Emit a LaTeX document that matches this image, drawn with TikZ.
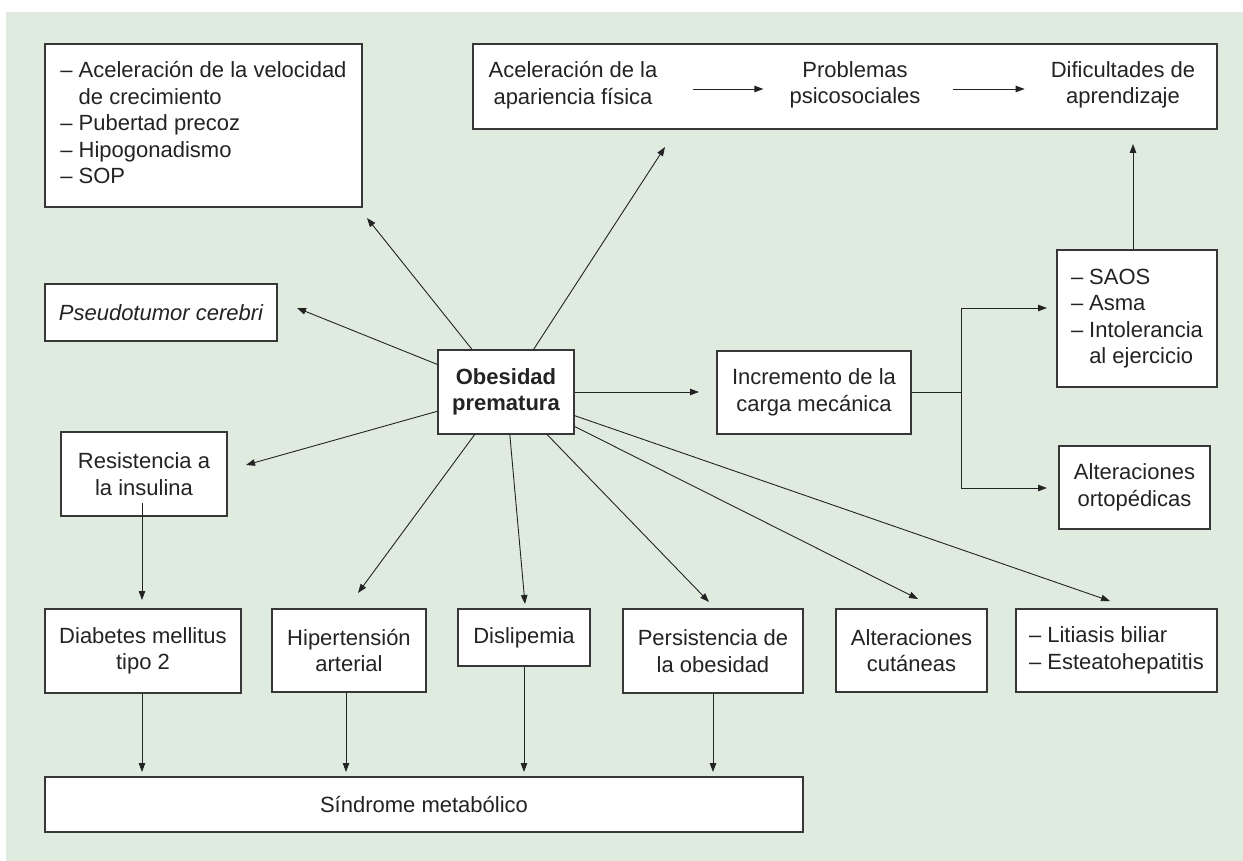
\documentclass[tikz,border=0pt]{standalone}
\usepackage{fontspec}
\setmainfont{Liberation Sans}
\usetikzlibrary{arrows.meta}
\definecolor{bggreen}{RGB}{224,235,223}
\definecolor{ink}{RGB}{35,35,35}
\definecolor{frame}{RGB}{55,55,55}
\begin{document}
\begin{tikzpicture}[x=1pt,y=-1pt,
  txt/.style={font=\fontsize{22}{26.5}\selectfont},
  box/.style={txt, draw=frame, line width=1.2pt, fill=white, inner sep=0pt, align=center, text=ink},
  lbl/.style={txt, inner sep=0pt, align=center, text=ink},
  arr/.style={draw=ink, line width=0.9pt, -{Triangle[length=9pt,width=6.5pt]}},
  conn/.style={draw=ink, line width=0.9pt}]
\useasboundingbox (0,0) rectangle (1243,861);
\fill[bggreen] (6,12) rectangle (1243,861);

% boxes
\node[box, minimum width=317pt, minimum height=163pt] (accel) at (203.5,125.5)
  {\begin{tabular}{@{}l@{\hspace{6pt}}l@{}}–&Aceleración de la velocidad\\&de crecimiento\\–&Pubertad precoz\\–&Hipogonadismo\\–&SOP\end{tabular}};
\node[box, minimum width=744pt, minimum height=85pt] (top) at (845,86.5) {};
\node[lbl] (apar) at (573,85) {Aceleración de la\\apariencia física};
\node[lbl] (psico) at (855,85) {Problemas\\psicosociales};
\node[lbl] (dif) at (1123,85) {Dificultades de\\aprendizaje};
\node[box, minimum width=232pt, minimum height=57pt] (pseudo) at (161,312.5) {\itshape Pseudotumor cerebri};
\node[box, minimum width=136pt, minimum height=84pt, font=\fontsize{22}{26.5}\selectfont\bfseries] (obes) at (506,392) {Obesidad\\prematura};
\node[box, minimum width=194pt, minimum height=83pt] (incr) at (814,392.5) {Incremento de la\\carga mecánica};
\node[box, minimum width=160pt, minimum height=137pt] (saos) at (1137,318.5)
  {\begin{tabular}{@{}l@{\hspace{6pt}}l@{}}–&SAOS\\–&Asma\\–&Intolerancia\\&al ejercicio\end{tabular}};
\node[box, minimum width=151pt, minimum height=83pt] (orto) at (1134.5,487.5) {Alteraciones\\ortopédicas};
\node[box, minimum width=166pt, minimum height=84pt] (resis) at (144,474) {Resistencia a\\la insulina};
\node[box, minimum width=196pt, minimum height=84pt] (diab) at (143,651) {Diabetes mellitus\\tipo 2};
\node[box, minimum width=154pt, minimum height=83pt] (hiper) at (349,650.5) {Hipertensión\\arterial};
\node[box, minimum width=132pt, minimum height=57pt] (disl) at (524,637.5) {Dislipemia};
\node[box, minimum width=180pt, minimum height=84pt] (pers) at (713,651) {Persistencia de\\la obesidad};
\node[box, minimum width=151pt, minimum height=83pt] (cutan) at (911.5,650.5) {Alteraciones\\cutáneas};
\node[box, minimum width=201pt, minimum height=83pt] (litia) at (1116.5,650.5)
  {\begin{tabular}{@{}l@{\hspace{6pt}}l@{}}–&Litiasis biliar\\–&Esteatohepatitis\end{tabular}};
\node[box, minimum width=758pt, minimum height=55pt] (sindr) at (424,804.5) {Síndrome metabólico};

% arrow end points
\coordinate (tAccel) at (367,218);
\coordinate (tTop) at (665,147);
\coordinate (tPseudo) at (297,308);
\coordinate (tResis) at (246,465);
\coordinate (tHiper) at (358,593);
\coordinate (tDisl) at (525,604);
\coordinate (tPers) at (709,602);
\coordinate (tCutan) at (918,599);
\coordinate (tLitia) at (1110,601);
\coordinate (tIncr) at (699,392);
\coordinate (fork) at (961,392.5);
\coordinate (tSaos) at (1047,308);
\coordinate (tOrto) at (1047,488);
\coordinate (tDif) at (1133,144);
\coordinate (tDiab) at (142,600);
\coordinate (rs) at (142,503);
\coordinate (tS1) at (142,772);
\coordinate (tS2) at (346,772);
\coordinate (tS3) at (524,772);
\coordinate (tS4) at (713,772);

% connectors
\foreach \t in {tAccel,tTop,tPseudo,tResis,tHiper,tDisl,tPers,tCutan,tLitia,tIncr}
  \draw[arr] (obes) -- (\t);
\draw[arr] ([xshift=35pt,yshift=-4pt]apar.east) -- ([xshift=-26pt,yshift=-4pt]psico.west);
\draw[arr] ([xshift=32pt,yshift=-4pt]psico.east) -- ([xshift=-26pt,yshift=-4pt]dif.west);
\draw[conn] (incr.east) -- (fork);
\draw[arr] (fork) |- (tSaos);
\draw[arr] (fork) |- (tOrto);
\draw[arr] (saos.north -| tDif) -- (tDif);
\draw[arr] (rs) -- (tDiab);
\draw[arr] (diab.south -| tS1) -- (tS1);
\draw[arr] (hiper.south -| tS2) -- (tS2);
\draw[arr] (disl.south -| tS3) -- (tS3);
\draw[arr] (pers.south -| tS4) -- (tS4);
\end{tikzpicture}
\end{document}
